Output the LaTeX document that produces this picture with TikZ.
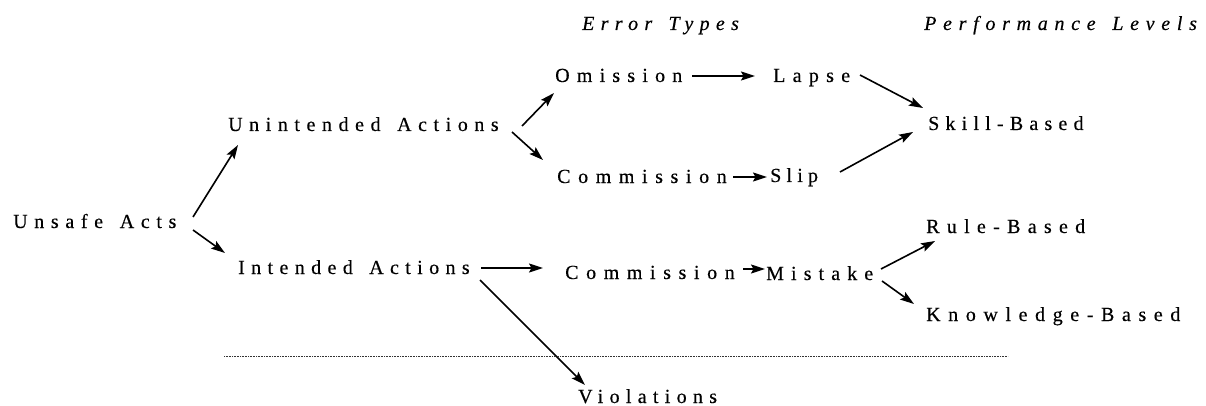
\documentclass[tikz,border=0pt]{standalone}
\usepackage{fontspec}
\setmainfont{Liberation Serif}
\usetikzlibrary{arrows.meta,calc}
\newcommand{\wsp}{\hspace{5pt}}
\begin{document}
\begin{tikzpicture}[x=1pt,y=-1pt,
  lbl/.style={inner sep=0pt, anchor=base west,
    font=\fontsize{20}{24}\selectfont\addfontfeature{LetterSpace=#1,FakeBold=0.4}},
  ilbl/.style={inner sep=0pt, anchor=base west,
    font=\fontsize{20}{24}\selectfont\itshape\addfontfeature{LetterSpace=#1,FakeBold=0.4}},
  arr/.style={-{Stealth[length=14pt,width=9pt,inset=2.5pt]}, line width=1.6pt},
  sep/.style={line width=1pt, dash pattern=on 1pt off 0.6pt, black!80},
]
\useasboundingbox (0,0) rectangle (1206,406);

% headings
\node[ilbl=31.5] (et) at (582,30) {Error \wsp Types};
\node[ilbl=33.5] (pl) at (924,30) {Performance \wsp Levels};

% labels
\node[lbl=33.3] (usa) at (13,228) {Unsafe \wsp Acts};
\node[lbl=32.8] (uia) at (228,131) {Unintended \wsp Actions};
\node[lbl=31.9] (ia) at (238,274) {Intended \wsp Actions};
\node[lbl=36] (om) at (555,82) {Omission};
\node[lbl=38] (c1) at (557,183) {Commission};
\node[lbl=36.5] (lapse) at (773,82) {Lapse};
\node[lbl=26] (slip) at (770,182) {Slip};
\node[lbl=31] (skill) at (928,130) {Skill-Based};
\node[lbl=38] (c2) at (565,279) {Commission};
\node[lbl=35.5] (mis) at (766,280) {Mistake};
\node[lbl=36.5] (rule) at (926,233) {Rule-Based};
\node[lbl=38] (know) at (926,321) {Knowledge-Based};
\node[lbl=31.5] (viol) at (578,403) {Violations};

% connectors
\draw[arr] ($(usa.base west)+(180,-11)$) -- ($(uia.base west)+(10,14)$);
\draw[arr] ($(usa.base west)+(180,2)$) -- ($(ia.base west)+(-13,-21)$);
\draw[arr] ($(uia.base west)+(294,-5)$) -- ($(om.base west)+(-1,11)$);
\draw[arr] ($(uia.base west)+(284,1)$) -- ($(c1.base west)+(-14,-23)$);
\draw[arr] ($(om.base west)+(137,-6)$) -- ($(lapse.base west)+(-18,-6)$);
\draw[arr] ($(lapse.base west)+(87,-7)$) -- ($(skill.base west)+(-5,-22)$);
\draw[arr] ($(c1.base west)+(176,-6)$) -- ($(slip.base west)+(-3,-5)$);
\draw[arr] ($(slip.base west)+(70,-10)$) -- ($(skill.base west)+(-15,2)$);
\draw[arr] ($(ia.base west)+(243,-6)$) -- ($(c2.base west)+(-22,-11)$);
\draw[arr] ($(ia.base west)+(242,6)$) -- ($(viol.base west)+(7,-18)$);
\draw[arr] ($(c2.base west)+(178,-10)$) -- ($(mis.base west)+(-1,-11)$);
\draw[arr] ($(mis.base west)+(115,-11)$) -- ($(rule.base west)+(9,8)$);
\draw[arr] ($(mis.base west)+(116,1)$) -- ($(know.base west)+(-12,-17)$);

% separator
\draw[sep] (224,356) -- (1008,356);
\end{tikzpicture}
\end{document}
